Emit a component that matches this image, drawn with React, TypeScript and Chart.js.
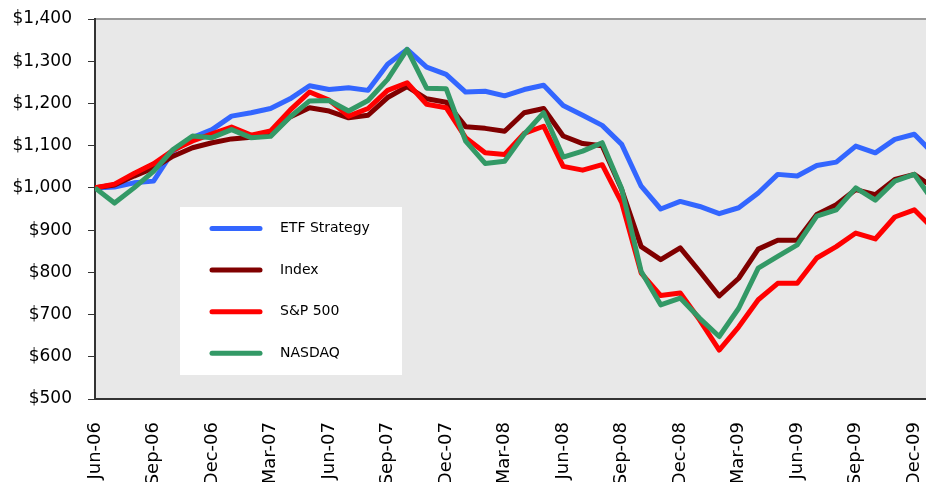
import React, { useEffect, useRef } from 'react';
import { Chart, registerables } from 'chart.js';

Chart.register(...registerables);

const months = [
  'Jun-06', 'Jul-06', 'Aug-06', 'Sep-06', 'Oct-06', 'Nov-06', 'Dec-06',
  'Jan-07', 'Feb-07', 'Mar-07', 'Apr-07', 'May-07', 'Jun-07', 'Jul-07', 'Aug-07', 'Sep-07', 'Oct-07', 'Nov-07', 'Dec-07',
  'Jan-08', 'Feb-08', 'Mar-08', 'Apr-08', 'May-08', 'Jun-08', 'Jul-08', 'Aug-08', 'Sep-08', 'Oct-08', 'Nov-08', 'Dec-08',
  'Jan-09', 'Feb-09', 'Mar-09', 'Apr-09', 'May-09', 'Jun-09', 'Jul-09', 'Aug-09', 'Sep-09', 'Oct-09', 'Nov-09', 'Dec-09',
  'Jan-10',
];

const tickLabels = ['Jun-06', 'Sep-06', 'Dec-06', 'Mar-07', 'Jun-07', 'Sep-07', 'Dec-07', 'Mar-08', 'Jun-08', 'Sep-08', 'Dec-08', 'Mar-09', 'Jun-09', 'Sep-09', 'Dec-09'];

const yTicks = [500, 600, 700, 800, 900, 1000, 1100, 1200, 1300, 1400];

const etfStrategy = [1000, 1002, 1012, 1016, 1087, 1119, 1138, 1170, 1178, 1188, 1211, 1242, 1233, 1237, 1231, 1293, 1328, 1286, 1269, 1227, 1229, 1218, 1233, 1243, 1195, 1172, 1148, 1103, 1004, 950, 968, 956, 939, 953, 988, 1032, 1028, 1053, 1061, 1099, 1083, 1115, 1127, 1080];
const indexSeries = [1000, 1007, 1028, 1047, 1075, 1095, 1107, 1116, 1120, 1127, 1168, 1190, 1182, 1166, 1172, 1214, 1240, 1211, 1203, 1145, 1141, 1134, 1178, 1188, 1123, 1105, 1100, 996, 861, 830, 858, 802, 744, 786, 855, 876, 876, 937, 960, 996, 984, 1020, 1032, 1000];
const sp500 = [1000, 1009, 1034, 1057, 1089, 1111, 1128, 1144, 1125, 1135, 1184, 1227, 1208, 1170, 1188, 1231, 1249, 1198, 1190, 1119, 1083, 1079, 1129, 1146, 1051, 1042, 1055, 965, 798, 745, 751, 687, 616, 671, 735, 774, 774, 834, 861, 893, 879, 931, 948, 902];
const nasdaq = [1000, 964, 1000, 1039, 1091, 1123, 1119, 1138, 1119, 1122, 1168, 1206, 1207, 1182, 1207, 1257, 1328, 1236, 1235, 1111, 1058, 1063, 1127, 1178, 1073, 1087, 1107, 998, 802, 723, 739, 691, 648, 715, 810, 838, 865, 933, 948, 1000, 971, 1016, 1032, 967];

const seriesNames = ['ETF Strategy', 'Index', 'S&P 500', 'NASDAQ'];
const seriesColors = ['#3366ff', '#800000', '#ff0000', '#339966'];

const FONT = 'DejaVu Sans';

const fmtDollar = (v: number) => '$' + String(v).replace(/\B(?=(\d{3})+(?!\d))/g, ',');

const plotBg = {
  id: 'plotBg',
  beforeDraw(chart: any) {
    const { ctx, chartArea } = chart;
    const { left, top, right, bottom } = chartArea;
    ctx.save();
    ctx.fillStyle = '#e8e8e8';
    ctx.fillRect(left, top, right - left, bottom - top);
    ctx.strokeStyle = '#999999';
    ctx.lineWidth = 2;
    ctx.beginPath();
    ctx.moveTo(left, top);
    ctx.lineTo(right, top);
    ctx.stroke();
    ctx.restore();
  },
};

const boxLegend = {
  id: 'boxLegend',
  afterDraw(chart: any) {
    const { ctx, chartArea } = chart;
    const x0 = chartArea.left + 85;
    const y0 = chartArea.top + 188;
    const w = 222;
    const h = 168;
    ctx.save();
    ctx.fillStyle = '#ffffff';
    ctx.fillRect(x0, y0, w, h);
    const sets = chart.data.datasets;
    const items = [...sets].sort((a: any, b: any) => a.legendIndex - b.legendIndex);
    items.forEach((ds: any, i: number) => {
      const cy = y0 + 21.5 + i * 41.6;
      ctx.strokeStyle = ds.borderColor;
      ctx.lineWidth = 5;
      ctx.lineCap = 'round';
      ctx.beginPath();
      ctx.moveTo(x0 + 32, cy);
      ctx.lineTo(x0 + 80, cy);
      ctx.stroke();
      ctx.fillStyle = '#000000';
      ctx.font = `14px "${FONT}"`;
      ctx.textBaseline = 'middle';
      ctx.textAlign = 'left';
      ctx.fillText(ds.label, x0 + 100, cy);
    });
    ctx.restore();
  },
};

export default function App() {
  const ref = useRef<HTMLCanvasElement | null>(null);

  useEffect(() => {
    if (!ref.current) return;
    const allSeries = [etfStrategy, indexSeries, sp500, nasdaq];
    const quarterIdx = tickLabels.map((l) => months.indexOf(l));
    const chart = new Chart(ref.current, {
      type: 'line',
      data: {
        datasets: allSeries.map((vals, s) => ({
          label: seriesNames[s],
          legendIndex: s,
          data: vals.map((v, i) => ({ x: i, y: v })),
          borderColor: seriesColors[s],
          backgroundColor: seriesColors[s],
          borderWidth: 5,
          pointRadius: 0,
          tension: 0,
          borderJoinStyle: 'round',
          order: 3 - s,
        })) as any,
      },
      options: {
        animation: false,
        responsive: false,
        maintainAspectRatio: false,
        layout: { padding: { top: 19, left: 0, right: 0, bottom: 0 } },
        plugins: {
          legend: { display: false },
          tooltip: { enabled: false },
        },
        scales: {
          x: {
            type: 'linear',
            min: 0,
            max: 42.6,
            afterBuildTicks: (s: any) => {
              s.ticks = quarterIdx.map((v) => ({ value: v }));
            },
            afterFit: (s: any) => {
              s.height = 83;
              s.paddingLeft = 0;
              s.paddingRight = 0;
            },
            ticks: {
              autoSkip: false,
              maxRotation: 90,
              minRotation: 90,
              padding: 23,
              color: '#000000',
              font: { family: FONT, size: 18 },
              callback: (v: any) => months[Math.round(Number(v))],
            },
            grid: { drawOnChartArea: false, drawTicks: false },
            border: { color: '#333333', width: 2 },
          },
          y: {
            min: 500,
            max: 1400,
            afterBuildTicks: (s: any) => {
              s.ticks = yTicks.map((v) => ({ value: v }));
            },
            afterFit: (s: any) => {
              s.width = 95;
              s.paddingTop = 0;
              s.paddingBottom = 0;
            },
            ticks: {
              padding: 16,
              color: '#000000',
              font: { family: FONT, size: 17 },
              callback: (v: any) => fmtDollar(Number(v)),
            },
            grid: { drawOnChartArea: false, drawTicks: true, tickLength: 7, color: '#333333', lineWidth: 1 },
            border: { color: '#333333', width: 2 },
          },
        },
      } as any,
      plugins: [plotBg, boxLegend],
    });
    return () => chart.destroy();
  }, []);

  return (
    <div style={{ position: 'absolute', left: 0, top: 0, width: 926, height: 482, overflow: 'hidden', background: '#ffffff' }}>
      <canvas ref={ref} width={926} height={482} style={{ width: 926, height: 482, display: 'block' }} />
    </div>
  );
}
